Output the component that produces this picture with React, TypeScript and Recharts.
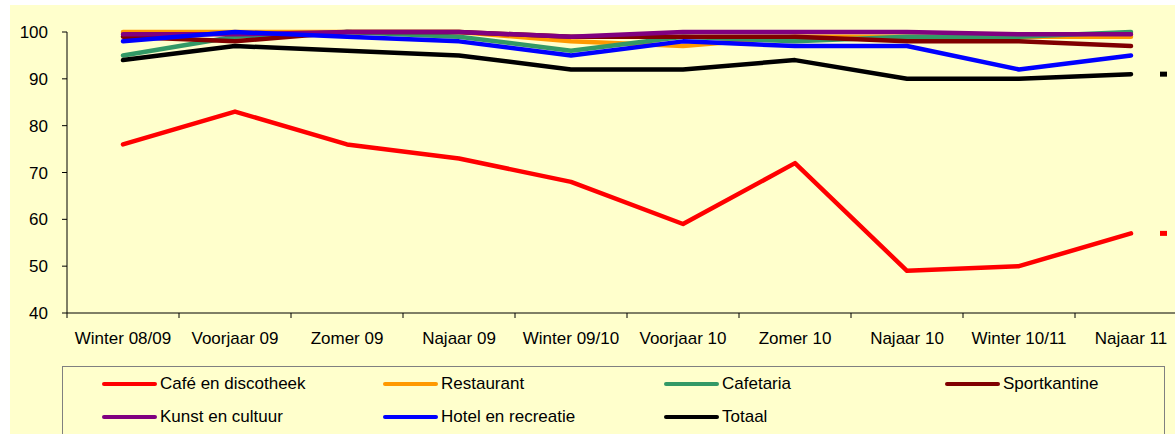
import React from 'react';
import { LineChart, Line, XAxis, YAxis, Legend, LabelList } from 'recharts';

const categories = ['Winter 08/09', 'Voorjaar 09', 'Zomer 09', 'Najaar 09', 'Winter 09/10', 'Voorjaar 10', 'Zomer 10', 'Najaar 10', 'Winter 10/11', 'Najaar 11'];
const cafeDisco = [76, 83, 76, 73, 68, 59, 72, 49, 50, 57];
const restaurant = [100, 100, 100, 100, 98, 97, 99, 99, 99, 99];
const cafetaria = [95, 99, 100, 99, 96, 99, 98, 99, 99, 100];
const sportkantine = [99, 98, 100, 100, 99, 99, 99, 98, 98, 97];
const kunst = [99.5, 99.5, 100, 100, 99, 100, 100, 100, 99.5, 99.5];
const hotel = [98, 100, 99, 98, 95, 98, 97, 97, 92, 95];
const totaal = [94, 97, 96, 95, 92, 92, 94, 90, 90, 91];
const yTicks = [40, 50, 60, 70, 80, 90, 100];

const series = [
  { key: 'cafe', name: 'Café en discotheek', color: '#FF0000', values: cafeDisco, endMark: true },
  { key: 'rest', name: 'Restaurant', color: '#FF9900', values: restaurant, endMark: false },
  { key: 'cafet', name: 'Cafetaria', color: '#339966', values: cafetaria, endMark: false },
  { key: 'sport', name: 'Sportkantine', color: '#800000', values: sportkantine, endMark: false },
  { key: 'kunst', name: 'Kunst en cultuur', color: '#800080', values: kunst, endMark: false },
  { key: 'hotel', name: 'Hotel en recreatie', color: '#0000FF', values: hotel, endMark: false },
  { key: 'tot', name: 'Totaal', color: '#000000', values: totaal, endMark: true },
];

const data = categories.map((c, i) => {
  const row: any = { cat: c };
  series.forEach((s) => { row[s.key] = s.values[i]; });
  return row;
});

const FONT = '"Liberation Sans", Arial, sans-serif';
const CHART_W = 1200;
const CHART_H = 434;
const MARGIN = { top: 32, right: 13, left: 0, bottom: 91 };
const Y_W = 67;
const HALF_STEP = (CHART_W - Y_W - MARGIN.right) / categories.length / 2;

const XTick = (props: any) => {
  const { x, y, payload } = props;
  return (
    <g>
      <line x1={x - HALF_STEP} x2={x - HALF_STEP} y1={y} y2={y + 5} stroke="#000" strokeWidth={1} />
      <text x={x} y={y + 31} textAnchor="middle" fontSize={17} fontFamily={FONT} fill="#000">
        {payload.value}
      </text>
    </g>
  );
};

const makeEndMark = (color: string) => (props: any) => {
  const { x, y, index } = props;
  if (index !== categories.length - 1) return null;
  return <rect x={x + 29} y={y - 2.5} width={7} height={5} fill={color} />;
};

const LegendContent = () => (
  <div
    style={{
      boxSizing: 'border-box',
      width: '100%',
      height: '100%',
      border: '1px solid #808080',
      background: '#FFFFCC',
      paddingLeft: 39,
      paddingTop: 0,
      display: 'grid',
      gridTemplateColumns: 'repeat(4, 281px)',
      gridAutoRows: '33px',
      fontFamily: FONT,
      fontSize: 17,
      color: '#000',
    }}
  >
    {series.map((s) => (
      <div key={s.key} style={{ display: 'flex', alignItems: 'center', whiteSpace: 'nowrap' }}>
        <span style={{ display: 'inline-block', width: 55, height: 4, borderRadius: 2, background: s.color, marginRight: 3 }} />
        <span>{s.name}</span>
      </div>
    ))}
  </div>
);

export default function App() {
  return (
    <div style={{ position: 'absolute', left: 0, top: 0, width: 1175, height: 434, overflow: 'hidden', background: '#FFFFFF' }}>
      <div style={{ position: 'absolute', left: 10, top: 5, right: 0, bottom: 0, background: '#FFFFCC' }} />
      <div style={{ position: 'absolute', left: 0, top: 0 }}>
        <LineChart width={CHART_W} height={CHART_H} data={data} margin={MARGIN}>
          <XAxis
            dataKey="cat"
            height={30}
            padding={{ left: HALF_STEP, right: HALF_STEP }}
            axisLine={{ stroke: '#000', strokeWidth: 1 }}
            tickLine={false}
            tickSize={0}
            tickMargin={0}
            interval={0}
            tick={<XTick />}
          />
          <YAxis
            width={Y_W}
            domain={[40, 100]}
            ticks={yTicks}
            interval={0}
            axisLine={{ stroke: '#000', strokeWidth: 1 }}
            tickLine={{ stroke: '#000', strokeWidth: 1 }}
            tickSize={5}
            tickMargin={14}
            tick={{ fontSize: 17, fontFamily: FONT, fill: '#000' }}
          />
          <Legend
            layout="horizontal"
            verticalAlign="middle"
            align="center"
            wrapperStyle={{ position: 'absolute', left: 62, top: 366, width: 1103, height: 76 }}
            content={<LegendContent />}
          />
          {series.map((s) => (
            <Line
              key={s.key}
              type="linear"
              dataKey={s.key}
              name={s.name}
              stroke={s.color}
              strokeWidth={4.5}
              strokeLinecap="round"
              strokeLinejoin="round"
              dot={false}
              activeDot={false}
              isAnimationActive={false}
            >
              {s.endMark ? <LabelList dataKey={s.key} content={makeEndMark(s.color)} /> : null}
            </Line>
          ))}
        </LineChart>
      </div>
    </div>
  );
}
